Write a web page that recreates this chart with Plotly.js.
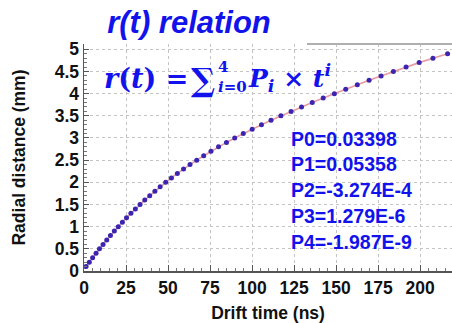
<!DOCTYPE html>
<html>
<head>
<meta charset="utf-8">
<script src="https://cdn.plot.ly/plotly-3.0.1.min.js"></script>
<style>html,body{margin:0;padding:0;background:#fff;}#chart{width:452px;height:323px;}</style>
</head>
<body>
<div id="chart"></div>
<script>
// Measured points (drift time in ns, radial distance in mm)
const driftTime = [1.24, 3.16, 5.13, 7.17, 9.22, 11.34, 13.52, 15.73, 18.05, 20.38,
  22.84, 25.31, 27.92, 30.56, 33.34, 36.17, 39.12, 42.18, 45.31, 48.62,
  52.03, 55.55, 59.24, 63.09, 67.08, 71.23, 75.56, 80.07, 84.79, 89.69,
  94.79, 100.09, 105.60, 111.30, 117.18, 123.24, 129.45, 135.83, 142.35, 148.99,
  155.75, 162.65, 169.66, 176.82, 184.14, 191.67, 199.47, 207.66, 216.37];
const radialDistance = [0.1, 0.2, 0.3, 0.4, 0.5, 0.6, 0.7, 0.8, 0.9, 1.0,
  1.1, 1.2, 1.3, 1.4, 1.5, 1.6, 1.7, 1.8, 1.9, 2.0,
  2.1, 2.2, 2.3, 2.4, 2.5, 2.6, 2.7, 2.8, 2.9, 3.0,
  3.1, 3.2, 3.3, 3.4, 3.5, 3.6, 3.7, 3.8, 3.9, 4.0,
  4.1, 4.2, 4.3, 4.4, 4.5, 4.6, 4.7, 4.8, 4.9];
const xTicks = [0, 25, 50, 75, 100, 125, 150, 175, 200];
const yTicks = [0, 0.5, 1, 1.5, 2, 2.5, 3, 3.5, 4, 4.5, 5];
const coefficientLabels = ['P0=0.03398', 'P1=0.05358', 'P2=-3.274E-4', 'P3=1.279E-6', 'P4=-1.987E-9'];

const BLUE = '#1212ec';
const SANS = 'Liberation Sans, Arial, sans-serif';
const SERIF = 'DejaVu Serif, Liberation Serif, serif';

// plot area geometry (px)
const L = 84, T = 44, B = 52, W = 452, H = 323;
const PW = W - L, PH = H - T - B;
const px = x => (x - L) / PW;
const py = y => (H - B - y) / PH;

const traces = [
  {x: driftTime, y: radialDistance, mode: 'lines', type: 'scatter',
   line: {color: '#e99aa2', width: 1.6}, hoverinfo: 'skip', showlegend: false},
  {x: driftTime, y: radialDistance, mode: 'markers', type: 'scatter',
   marker: {color: '#3a24b0', size: 5}, showlegend: false}
];

const coefY = [139, 164, 190, 216, 242];
const annotations = coefficientLabels.map((t, i) => ({
  text: t, xref: 'paper', yref: 'paper', x: px(289), y: py(coefY[i]),
  xanchor: 'left', yanchor: 'middle', showarrow: false,
  font: {family: SANS, size: 19.5, weight: 'bold', color: BLUE}
}));

const fFont = s => ({family: SERIF, size: s, weight: 'bold', color: BLUE});
annotations.push(
  {text: '<i>r</i>(<i>t</i>) =', xref: 'paper', yref: 'paper', x: px(102), y: py(78),
   xanchor: 'left', yanchor: 'middle', showarrow: false, font: fFont(27)},
  {text: '∑', xref: 'paper', yref: 'paper', x: px(203), y: py(80),
   xanchor: 'center', yanchor: 'middle', showarrow: false, font: fFont(32)},
  {text: '4', xref: 'paper', yref: 'paper', x: px(216), y: py(67),
   xanchor: 'left', yanchor: 'middle', showarrow: false, font: fFont(15)},
  {text: '<i>i</i>=0', xref: 'paper', yref: 'paper', x: px(216), y: py(87),
   xanchor: 'left', yanchor: 'middle', showarrow: false, font: fFont(15)},
  {text: '<i>P<sub>i</sub></i> × <i>t<sup>i</sup></i>', xref: 'paper', yref: 'paper', x: px(246), y: py(78),
   xanchor: 'left', yanchor: 'middle', showarrow: false, font: fFont(25)}
);

const layout = {
  width: W, height: H,
  margin: {l: L, r: 0, t: T, b: B},
  paper_bgcolor: '#fff', plot_bgcolor: '#fff',
  title: {text: 'r(t) relation', xref: 'container', yref: 'container',
    x: 189 / W, y: 1 - 22 / H, xanchor: 'center', yanchor: 'middle',
    font: {family: SANS, size: 31, weight: 'bold', style: 'italic', color: BLUE}},
  xaxis: {
    range: [0, 219], tickvals: xTicks, ticktext: xTicks.map(String),
    showline: true, linecolor: '#555', linewidth: 1.5,
    ticks: 'inside', ticklen: 6, tickcolor: '#555', tickwidth: 1,
    minor: {dtick: 5, ticks: 'inside', ticklen: 3, tickcolor: '#777', showgrid: false},
    showgrid: true, gridcolor: '#c4c4c4', griddash: 'dot', gridwidth: 1,
    zeroline: false,
    tickfont: {family: SANS, size: 17.5, weight: 'bold', color: '#111'},
    title: {text: 'Drift time (ns)', standoff: 10,
      font: {family: SANS, size: 17.5, weight: 'bold', color: '#111'}}
  },
  yaxis: {
    range: [0, 5.12], tickvals: yTicks, ticktext: yTicks.map(String),
    showline: true, linecolor: '#555', linewidth: 1.5,
    ticks: 'inside', ticklen: 5, tickcolor: '#555', tickwidth: 1,
    minor: {dtick: 0.1, ticks: 'inside', ticklen: 3, tickcolor: '#777', showgrid: false},
    showgrid: true, gridcolor: '#c4c4c4', griddash: 'dot', gridwidth: 1,
    zeroline: false,
    tickfont: {family: SANS, size: 17.5, weight: 'bold', color: '#111'},
    title: {text: 'Radial distance (mm)', standoff: 24,
      font: {family: SANS, size: 17.5, weight: 'bold', color: '#111'}}
  },
  shapes: [
    {type: 'line', xref: 'paper', yref: 'paper', x0: px(307), x1: 1, y0: 1, y1: 1,
     line: {color: '#b0b0b0', width: 2}}
  ],
  annotations: annotations
};

Plotly.newPlot('chart', traces, layout, {displayModeBar: false, staticPlot: true});
</script>
</body>
</html>
